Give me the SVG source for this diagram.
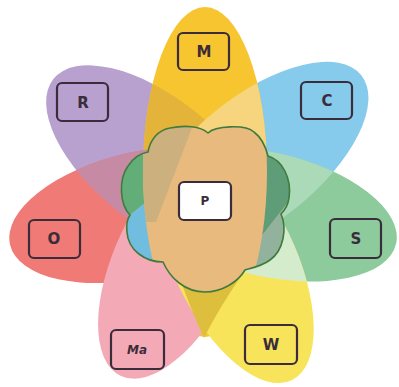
<svg xmlns="http://www.w3.org/2000/svg" xmlns:xlink="http://www.w3.org/1999/xlink" width="399" height="387" viewBox="0 0 399 387">
<style>
.box{fill:none;stroke:#3a2c3a;stroke-width:2.2}
.lbl{font-family:"DejaVu Sans","Liberation Sans",sans-serif;font-size:15px;font-weight:bold;fill:#3a2c3a;text-anchor:middle;dominant-baseline:central}
</style>
<defs>
<ellipse id="pM" cx="205" cy="172" rx="62" ry="165"/>
<ellipse id="pC" cx="205" cy="134" rx="63" ry="134" transform="rotate(51.4 205 200)"/>
<ellipse id="pS" cx="205" cy="136" rx="62" ry="132" transform="rotate(102.9 205 200)"/>
<ellipse id="pW" cx="205" cy="133" rx="61" ry="133" transform="rotate(154.3 205 200)"/>
<ellipse id="pMa" cx="205" cy="135" rx="61" ry="130" transform="rotate(205.7 205 200)"/>
<ellipse id="pO" cx="205" cy="134" rx="63" ry="134" transform="rotate(257.1 205 200)"/>
<ellipse id="pR" cx="205" cy="137" rx="63" ry="131" transform="rotate(308.6 205 200)"/>
<path id="cloudShape" d="M208,133 C215,126 245,124 254,132 C262,138 266,148 268,156 C282,160 292,178 289,198 C288,206 284,211 281,214 C287,228 284,250 270,260 C262,266 252,268 245,270 C238,282 222,292 205,292 C185,292 170,278 163,262 C145,262 128,250 127,232 C126,224 128,218 130,215 C120,205 118,180 128,166 C134,157 142,153 148,152 C150,140 158,130 170,128 C185,125 200,126 208,133 Z"/>
<clipPath id="cM"><use xlink:href="#pM"/></clipPath>
<clipPath id="cS"><use xlink:href="#pS"/></clipPath>
<clipPath id="cO"><use xlink:href="#pO"/></clipPath>
<clipPath id="cCloud"><use xlink:href="#cloudShape"/></clipPath>
</defs>
<rect width="399" height="387" fill="#ffffff"/>
<g id="petals">
<use xlink:href="#pC" fill="#86CBEC"/>
<use xlink:href="#pR" fill="#B8A0CF"/>
<use xlink:href="#pS" fill="#8DCB9D"/>
<use xlink:href="#pO" fill="#EF7A76"/>
<use xlink:href="#pM" fill="#F6C52F"/>
<use xlink:href="#pR" fill="#E4B33A" clip-path="url(#cM)"/>
<use xlink:href="#pC" fill="#F7D47E" clip-path="url(#cM)"/>
<use xlink:href="#pMa" fill="#F4AAB6"/>
<use xlink:href="#pW" fill="#F8E45A"/>
<use xlink:href="#pC" fill="#ABDAB8" clip-path="url(#cS)"/>
<use xlink:href="#pW" fill="#D4ECCB" clip-path="url(#cS)"/>
<use xlink:href="#pR" fill="#C68AA4" clip-path="url(#cO)"/>
<path d="M176,268 Q190,308 204,338 Q220,306 248,266 Z" fill="#DDBF3D"/>
</g>
<g id="node-P-cloud">
<g clip-path="url(#cCloud)">
<rect x="110" y="110" width="190" height="190" fill="#E7B97D"/>
<polygon points="100,100 200,100 200,159 100,239" fill="#62AD78"/>
<polygon points="100,239 200,159 200,320 100,320" fill="#70BDE0"/>
<polygon points="240,100 320,100 320,161 240,264" fill="#5E9D77"/>
<polygon points="240,264 320,161 320,320 240,320" fill="#92B29D"/>
<use xlink:href="#pM" fill="#E8BA7E"/>
<polygon points="150,120 195,120 156,222 130,222" fill="#CCB07E" clip-path="url(#cM)"/>
</g>
<use xlink:href="#cloudShape" fill="none" stroke="#3F7B3C" stroke-width="1.6"/>
</g>
<g id="node-M"><rect class="box" x="178" y="33" width="51" height="37" rx="5"/><text class="lbl" x="204" y="52">M</text></g>
<g id="node-R"><rect class="box" x="57" y="83" width="51" height="38" rx="5"/><text class="lbl" x="83" y="103">R</text></g>
<g id="node-C"><rect class="box" x="301" y="82" width="51" height="37" rx="5"/><text class="lbl" x="327" y="101">C</text></g>
<g id="node-O"><rect class="box" x="29" y="220" width="51" height="38" rx="5"/><text class="lbl" x="54" y="239">O</text></g>
<g id="node-S"><rect class="box" x="330" y="219" width="51" height="39" rx="5"/><text class="lbl" x="356" y="239">S</text></g>
<g id="node-W"><rect class="box" x="245" y="325" width="52" height="39" rx="5"/><text class="lbl" x="271" y="345">W</text></g>
<g id="node-Ma"><rect class="box" x="111" y="330" width="53" height="39" rx="5"/><text class="lbl" x="137" y="350" style="font-size:12px;font-style:italic">Ma</text></g>
<g id="node-P"><rect class="box" x="179" y="182" width="52" height="38" rx="5" style="fill:#ffffff"/><text class="lbl" x="205" y="201" style="font-size:12px">P</text></g>
</svg>
